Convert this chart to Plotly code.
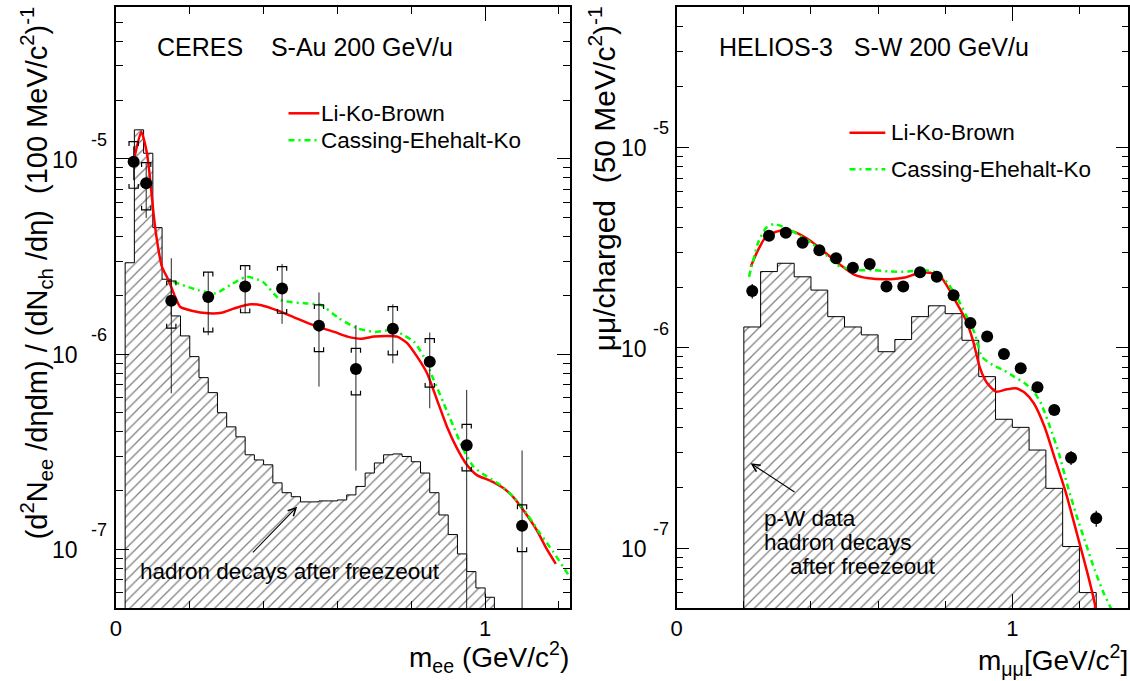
import plotly.graph_objects as go

W, H = 1130, 681
FONT = "Liberation Sans, Arial, Helvetica, sans-serif"
RED = "#ff0000"
GREEN = "#00ff00"
DASHDOT = "6px,4px,2px,4px"
FLOOR = 1e-9  # below the visible range; used to close fills / open-ended error bars

# ---------------- CERES  S-Au 200 GeV/u ----------------
ceres_m = [0.048, 0.082, 0.15, 0.25, 0.35, 0.45, 0.55, 0.65, 0.75, 0.85, 0.95, 1.10]
ceres_y = [9.69e-6, 7.51e-6, 1.88e-6, 1.96e-6, 2.22e-6, 2.17e-6, 1.40e-6, 8.40e-7,
           1.35e-6, 9.15e-7, 3.41e-7, 1.32e-7]
ceres_stat_up = [1.9e-6, 2.0e-6, 1.22e-6, 6.7e-7, 6.2e-7, 7.3e-7, 6.7e-7, 5.7e-7,
                 4.5e-7, 3.75e-7, 3.15e-7, 1.89e-7]
ceres_stat_dn = [1.9e-6, 2.52e-6, 1.25e-6, 7.1e-7, 6.0e-7, 7.4e-7, 7.18e-7, 5.87e-7,
                 4.53e-7, 3.87e-7, 3.41e-7, 1.32e-7]
ceres_sys_up = [2.57e-6, 2.07e-6, 4.9e-7, 6.7e-7, 6.2e-7, 6.4e-7, 3.9e-7, 2.3e-7,
                4.0e-7, 2.85e-7, 9.6e-8, 3.7e-8]
ceres_sys_dn = [2.61e-6, 2.03e-6, 5.2e-7, 6.6e-7, 5.9e-7, 5.5e-7, 3.7e-7, 2.22e-7,
                3.59e-7, 2.38e-7, 8.9e-8, 3.47e-8]

# hadron decay cocktail, 25 MeV bins starting at 25 MeV
ceres_hist_start = 0.025
ceres_hist_width = 0.025
ceres_hist = [2.94e-6, 1.41e-5, 1.07e-5, 4.45e-6, 2.42e-6, 1.57e-6, 1.24e-6, 9.71e-7,
              7.58e-7, 6.35e-7, 5.01e-7, 4.24e-7, 3.77e-7, 3.05e-7, 2.87e-7, 2.71e-7,
              2.19e-7, 1.95e-7, 1.86e-7, 1.75e-7, 1.75e-7, 1.77e-7, 1.77e-7, 1.79e-7,
              1.90e-7, 2.10e-7, 2.46e-7, 2.77e-7, 3.05e-7, 3.08e-7, 2.99e-7, 2.81e-7,
              2.46e-7, 1.95e-7, 1.50e-7, 1.19e-7, 9.47e-8, 7.69e-8, 6.34e-8, 5.68e-8]

ceres_lkb_m = [0.0506, 0.0687, 0.0841, 0.0929, 0.1018, 0.1110, 0.1245, 0.1422, 0.1603,
               0.1738, 0.2053, 0.25, 0.2861, 0.3219, 0.3669, 0.3939, 0.4386, 0.4836,
               0.5374, 0.5913, 0.6272, 0.6633, 0.6991, 0.7349, 0.7619, 0.7888, 0.8157,
               0.8427, 0.8696, 0.8966, 0.9235, 0.9504, 0.9774, 1.0135, 1.0493, 1.0762,
               1.1032, 1.139, 1.1659, 1.1913]
ceres_lkb_y = [1.024e-5, 1.38e-5, 1.07e-5, 7.80e-6, 5.27e-6, 3.85e-6, 2.81e-6, 2.40e-6,
               1.97e-6, 1.75e-6, 1.67e-6, 1.62e-6, 1.63e-6, 1.72e-6, 1.80e-6, 1.78e-6,
               1.67e-6, 1.54e-6, 1.40e-6, 1.30e-6, 1.23e-6, 1.20e-6, 1.23e-6, 1.24e-6,
               1.23e-6, 1.14e-6, 9.71e-7, 7.98e-7, 5.83e-7, 4.25e-7, 3.30e-7, 2.71e-7,
               2.40e-7, 2.25e-7, 2.06e-7, 1.85e-7, 1.59e-7, 1.26e-7, 1.01e-7, 8.42e-8]

ceres_cek_m = [0.1557, 0.2214, 0.2702, 0.3095, 0.3534, 0.3974, 0.4467, 0.5151, 0.5542,
               0.6032, 0.6522, 0.7012, 0.7503, 0.7796, 0.8068, 0.8338, 0.8607, 0.8877,
               0.9146, 0.9416, 0.9685, 1.0043, 1.0404, 1.0762, 1.1121, 1.1482, 1.184,
               1.2198, 1.2325]
ceres_cek_y = [2.35e-6, 2.13e-6, 2.05e-6, 2.26e-6, 2.49e-6, 2.35e-6, 1.89e-6, 1.82e-6,
               1.79e-6, 1.53e-6, 1.36e-6, 1.30e-6, 1.33e-6, 1.25e-6, 1.16e-6, 9.71e-7,
               7.38e-7, 5.60e-7, 4.25e-7, 3.23e-7, 2.65e-7, 2.36e-7, 2.14e-7, 1.86e-7,
               1.53e-7, 1.21e-7, 9.73e-8, 7.69e-8, 7.05e-8]

# ---------------- HELIOS-3  S-W 200 GeV/u ----------------
helios_m = [0.225, 0.275, 0.325, 0.375, 0.425, 0.475, 0.525, 0.575, 0.625, 0.675, 0.725,
            0.775, 0.825, 0.875, 0.925, 0.975, 1.025, 1.075, 1.125, 1.175, 1.25]
helios_y = [1.92e-6, 3.62e-6, 3.75e-6, 3.34e-6, 3.07e-6, 2.80e-6, 2.51e-6, 2.62e-6,
            2.02e-6, 2.02e-6, 2.38e-6, 2.26e-6, 1.83e-6, 1.33e-6, 1.14e-6, 9.31e-7,
            7.90e-7, 6.35e-7, 4.90e-7, 2.83e-7, 1.41e-7]
helios_err = [1.6e-7, 1.3e-7, 1.3e-7, 1.2e-7, 1.1e-7, 1.0e-7, 9e-8, 9e-8, 8e-8, 8e-8,
              8e-8, 8e-8, 7e-8, 5e-8, 4e-8, 3.5e-8, 3e-8, 2.5e-8, 2e-8, 2.3e-8, 1.3e-8]

# p-W reference (hadron decays), 50 MeV bins starting at 200 MeV
helios_hist_start = 0.2
helios_hist_width = 0.05
helios_hist = [1.27e-6, 2.40e-6, 2.64e-6, 2.26e-6, 1.94e-6, 1.43e-6, 1.27e-6, 1.16e-6,
               9.56e-7, 1.10e-6, 1.43e-6, 1.62e-6, 1.48e-6, 1.09e-6, 7.18e-7, 4.40e-7,
               4.01e-7, 3.09e-7, 1.99e-7, 1.02e-7, 6.01e-8]

helios_lkb_m = [0.2205, 0.2421, 0.2629, 0.2952, 0.3272, 0.3592, 0.4022, 0.4449, 0.4876,
                0.5302, 0.5729, 0.6369, 0.6796, 0.717, 0.7543, 0.7863, 0.813, 0.8343,
                0.8613, 0.8826, 0.904, 0.9253, 0.952, 0.984, 1.0107, 1.0373, 1.064,
                1.096, 1.128, 1.1601, 1.1921, 1.2241, 1.2454, 1.2498]
helios_lkb_y = [2.54e-6, 3.07e-6, 3.52e-6, 3.79e-6, 3.87e-6, 3.73e-6, 3.38e-6, 2.96e-6,
                2.59e-6, 2.31e-6, 2.22e-6, 2.20e-6, 2.24e-6, 2.35e-6, 2.37e-6, 2.26e-6,
                1.94e-6, 1.67e-6, 1.38e-6, 1.09e-6, 7.90e-7, 6.65e-7, 6.04e-7, 6.21e-7,
                6.28e-7, 5.97e-7, 5.29e-7, 4.04e-7, 2.76e-7, 1.88e-7, 1.19e-7, 7.50e-8,
                5.32e-8, 4.81e-8]

helios_cek_m = [0.2152, 0.2258, 0.2421, 0.2659, 0.2899, 0.3379, 0.4022, 0.4449, 0.4769,
                0.5302, 0.5836, 0.6369, 0.6903, 0.733, 0.7756, 0.8076, 0.8397, 0.8613,
                0.888, 0.9093, 0.9413, 0.9733, 1.0053, 1.0373, 1.064, 1.0853, 1.112,
                1.1387, 1.1654, 1.1921, 1.2187, 1.2454, 1.2724, 1.2934, 1.303]
helios_cek_y = [2.26e-6, 2.64e-6, 3.33e-6, 3.96e-6, 4.14e-6, 3.87e-6, 3.32e-6, 2.90e-6,
                2.59e-6, 2.44e-6, 2.44e-6, 2.40e-6, 2.40e-6, 2.44e-6, 2.37e-6, 2.10e-6,
                1.73e-6, 1.46e-6, 1.18e-6, 9.03e-7, 8.21e-7, 7.75e-7, 7.18e-7, 6.65e-7,
                6.04e-7, 5.29e-7, 4.04e-7, 2.98e-7, 2.03e-7, 1.44e-7, 1.06e-7, 7.79e-8,
                5.97e-8, 5.04e-8, 4.60e-8]

model_names = ["Li-Ko-Brown", "Cassing-Ehehalt-Ko"]
decades = [-7, -6, -5]


def px(x):
    return x / W


def py(y):
    return 1 - y / H


def step_outline(start, width, values):
    """Closed step polygon for a histogram (used with line_shape='hv')."""
    xs, ys = [start], [FLOOR]
    for i, v in enumerate(values):
        xs.append(round(start + i * width, 6))
        ys.append(v)
    xs.append(round(start + len(values) * width, 6))
    ys.append(FLOOR)
    return xs, ys


def hatched_hist(start, width, values, xa, ya):
    xs, ys = step_outline(start, width, values)
    return go.Scatter(
        x=xs, y=ys, xaxis=xa, yaxis=ya, mode="lines", fill="toself",
        line=dict(color="black", width=1, shape="hv"),
        fillcolor="white",
        fillpattern=dict(shape="/", fgcolor="black", bgcolor="white", size=7.5, solidity=0.17),
        showlegend=False, hoverinfo="skip",
    )


fig = go.Figure()

# histograms
fig.add_trace(hatched_hist(ceres_hist_start, ceres_hist_width, ceres_hist, "x", "y"))
fig.add_trace(hatched_hist(helios_hist_start, helios_hist_width, helios_hist, "x2", "y2"))

# model curves
curve_specs = [
    (ceres_lkb_m, ceres_lkb_y, "x", "y", model_names[0], RED, "solid"),
    (ceres_cek_m, ceres_cek_y, "x", "y", model_names[1], GREEN, DASHDOT),
    (helios_lkb_m, helios_lkb_y, "x2", "y2", model_names[0], RED, "solid"),
    (helios_cek_m, helios_cek_y, "x2", "y2", model_names[1], GREEN, DASHDOT),
]
for xm, yv, xa, ya, name, col, dash in curve_specs:
    fig.add_trace(go.Scatter(
        x=xm, y=yv, xaxis=xa, yaxis=ya, mode="lines", name=name,
        line=dict(color=col, width=2.5, dash=dash, shape="spline", smoothing=0.6),
        showlegend=False, hoverinfo="skip",
    ))

# CERES statistical error bars (plain vertical lines)
stat_x, stat_y = [], []
for xm, yv, up, dn in zip(ceres_m, ceres_y, ceres_stat_up, ceres_stat_dn):
    stat_x += [xm, xm, None]
    stat_y += [max(yv - dn, FLOOR), yv + up, None]
fig.add_trace(go.Scatter(x=stat_x, y=stat_y, xaxis="x", yaxis="y", mode="lines",
                         line=dict(color="#222222", width=1), showlegend=False, hoverinfo="skip"))

# CERES systematic error brackets
BRACKET_HALF = 0.0125
LEG = 10 ** 0.022
sys_x, sys_y = [], []
for xm, yv, up, dn in zip(ceres_m, ceres_y, ceres_sys_up, ceres_sys_dn):
    top, bot = yv + up, yv - dn
    sys_x += [xm - BRACKET_HALF, xm - BRACKET_HALF, xm + BRACKET_HALF, xm + BRACKET_HALF, None]
    sys_y += [top / LEG, top, top, top / LEG, None]
    sys_x += [xm - BRACKET_HALF, xm - BRACKET_HALF, xm + BRACKET_HALF, xm + BRACKET_HALF, None]
    sys_y += [bot * LEG, bot, bot, bot * LEG, None]
fig.add_trace(go.Scatter(x=sys_x, y=sys_y, xaxis="x", yaxis="y", mode="lines",
                         line=dict(color="black", width=1.2), showlegend=False, hoverinfo="skip"))

# data points
fig.add_trace(go.Scatter(x=ceres_m, y=ceres_y, xaxis="x", yaxis="y", mode="markers",
                         marker=dict(color="black", size=12), showlegend=False, hoverinfo="skip"))
fig.add_trace(go.Scatter(x=helios_m, y=helios_y, xaxis="x2", yaxis="y2", mode="markers",
                         marker=dict(color="black", size=12),
                         error_y=dict(type="data", array=helios_err, symmetric=True,
                                      color="black", thickness=1.2, width=0),
                         showlegend=False, hoverinfo="skip"))

# axes
frame = dict(showline=True, linecolor="black", linewidth=1.5, mirror="ticks",
             ticks="inside", tickcolor="black", tickwidth=1.2, showgrid=False, zeroline=False)
xcommon = dict(frame, dtick=1, tick0=0, ticklen=14,
               tickfont=dict(family=FONT, size=22, color="black"),
               minor=dict(dtick=0.2, tick0=0, ticks="inside", ticklen=7, tickwidth=1,
                          tickcolor="black", showgrid=False))
ycommon = dict(frame, type="log", dtick=1, ticklen=13, showticklabels=False,
               minor=dict(dtick="D1", ticks="inside", ticklen=7, tickwidth=1,
                          tickcolor="black", showgrid=False))

fig.update_layout(
    width=W, height=H, autosize=False,
    margin=dict(l=0, r=0, t=0, b=0, pad=0),
    paper_bgcolor="white", plot_bgcolor="white",
    font=dict(family=FONT, color="black"),
    showlegend=False,
    xaxis=dict(xcommon, domain=[px(110.5), px(566.7)], range=[0, 1.229], anchor="y"),
    yaxis=dict(ycommon, domain=[py(608), py(7)], range=[-7.3007, -4.2213], anchor="x"),
    xaxis2=dict(xcommon, domain=[px(674.3), px(1128.3)], range=[0, 1.3456], anchor="y2"),
    yaxis2=dict(ycommon, domain=[py(608), py(7)], range=[-7.298, -4.30], anchor="x2"),
)

ann = []
shapes = []


def text(t, x, y, size, xanchor="left", yanchor="middle", angle=0, xref="paper", yref="paper",
         yshift=0):
    ann.append(dict(text=t, x=x, y=y, xref=xref, yref=yref, xanchor=xanchor, yanchor=yanchor,
                    showarrow=False, textangle=angle, yshift=yshift, borderpad=0,
                    font=dict(family=FONT, size=size, color="black")))


# decade labels: "10" with a raised exponent
for d in decades:
    text("10", px(73), d, 23, xanchor="right", yref="y", yshift=-1)
    text(str(d), px(103), d, 18, xanchor="right", yref="y", yshift=19)
    text("10", px(645), d, 23, xanchor="right", yref="y2", yshift=-1)
    text(str(d), px(668), d, 18, xanchor="right", yref="y2", yshift=19)

# panel headers
text("CERES\u00a0\u00a0\u00a0\u00a0S-Au 200 GeV/u", px(151), py(46.7), 25)
text("HELIOS-3\u00a0\u00a0\u00a0S-W 200 GeV/u", px(716), py(46.7), 25)

# model keys (line sample + name) inside each panel
keys = [
    # (line x0, line x1, text x, y of first row, row spacing)
    (284, 315, 316, 113.3, 27.0),
    (848, 884, 889, 132.7, 36.5),
]
for x0, x1, tx, y0, dy in keys:
    for i, (name, col, dash) in enumerate(zip(model_names, [RED, GREEN], ["solid", DASHDOT])):
        yy = y0 + i * dy
        shapes.append(dict(type="line", xref="paper", yref="paper", x0=px(x0), x1=px(x1),
                           y0=py(yy), y1=py(yy), line=dict(color=col, width=2.5, dash=dash)))
        text(name, px(tx), py(yy), 22.5)

# axis titles
text("(d<sup>2</sup>N<sub>ee</sub> /d\u03b7dm) / (dN<sub>ch</sub> /d\u03b7)\u00a0\u00a0(100 MeV/c<sup>2</sup>)<sup>-1</sup>",
     px(31), py(5), 29, xanchor="center", yanchor="top", angle=-90)
text("\u03bc\u03bc/charged\u00a0\u00a0(50 MeV/c<sup>2</sup>)<sup>-1</sup>",
     px(600), py(5), 30, xanchor="center", yanchor="top", angle=-90)
text("m<sub>ee</sub> (GeV/c<sup>2</sup>)", px(567), py(657), 28, xanchor="right")
text("m<sub>\u03bc\u03bc</sub>[GeV/c<sup>2</sup>]", px(1128.5), py(660), 28, xanchor="right")

# cocktail labels
text("hadron decays after freezeout", px(134), py(571.7), 22.5)
text("p-W data", px(761), py(518), 22.5)
text("hadron decays", px(761), py(542.7), 22.5)
text("after freezeout", px(787), py(566.7), 22.5)

# arrows pointing at the cocktail histograms
ann.append(dict(x=0.4908, y=-6.7813, xref="x", yref="y", text="", showarrow=True,
                ax=-45.7, ay=47.3, arrowhead=5, arrowsize=1.4, arrowwidth=1.1, arrowcolor="black"))
ann.append(dict(x=0.2202, y=-6.576, xref="x2", yref="y2", text="", showarrow=True,
                ax=45.4, ay=29.7, arrowhead=5, arrowsize=1.4, arrowwidth=1.1, arrowcolor="black"))

fig.update_layout(annotations=ann, shapes=shapes)

fig.write_html("out.html")
